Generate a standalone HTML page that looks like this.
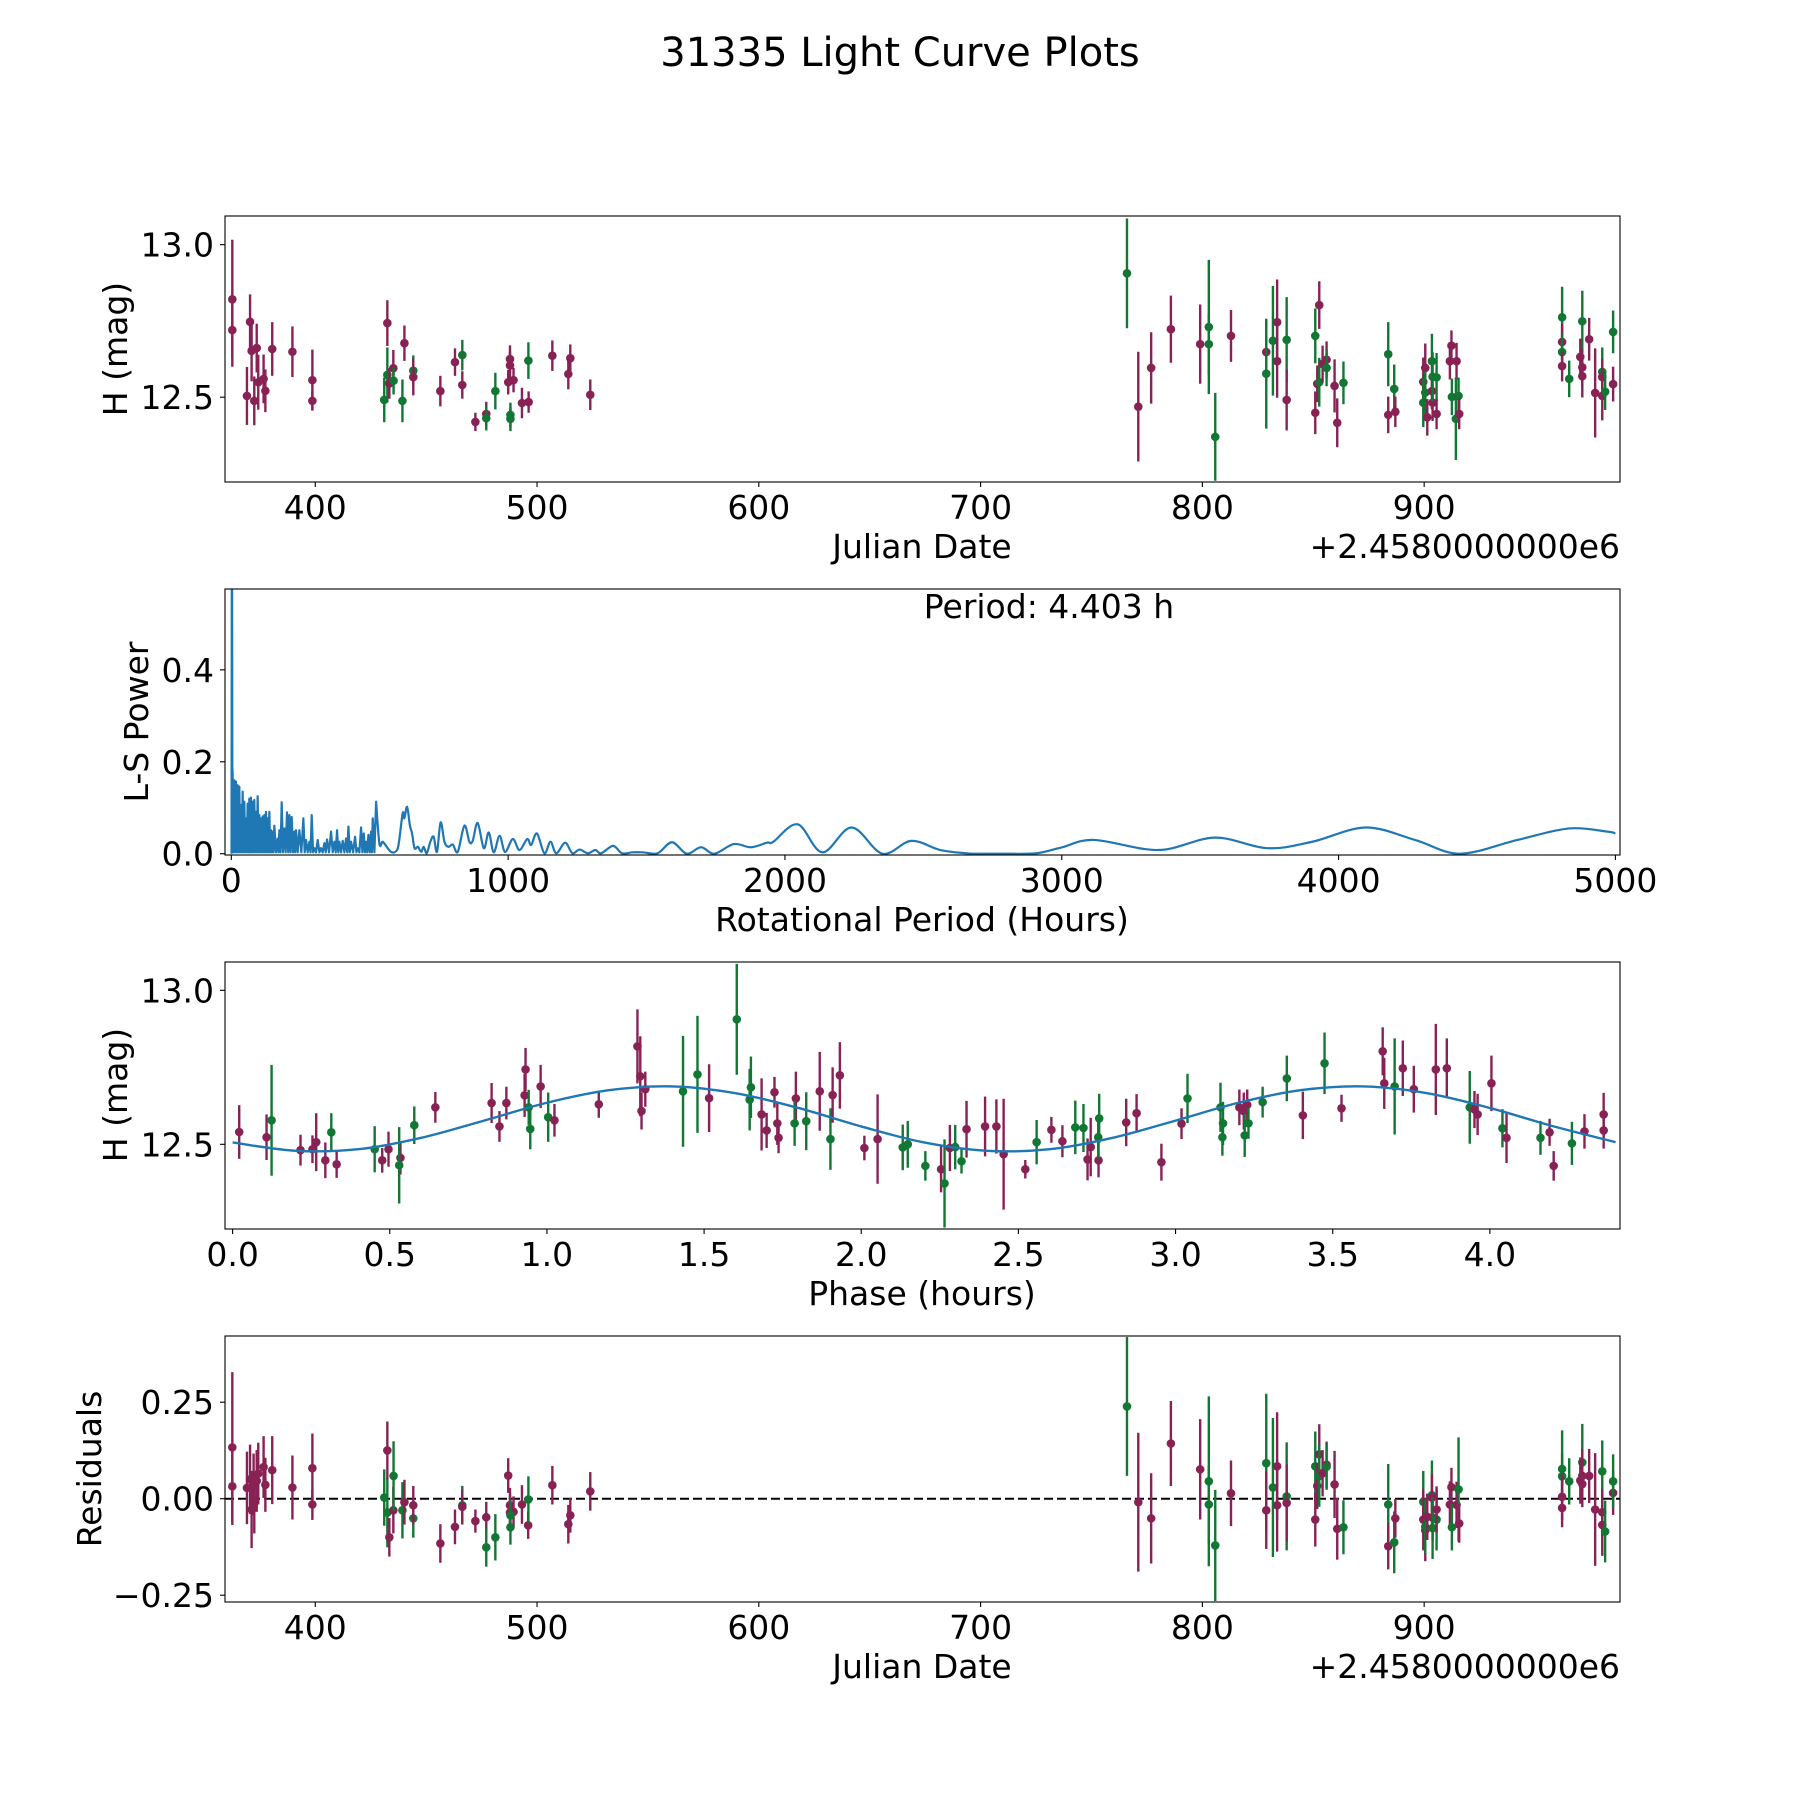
<!DOCTYPE html>
<html><head><meta charset="utf-8"><style>
html,body{margin:0;padding:0;background:#fff}
svg{display:block}
text{font-family:"DejaVu Sans","Liberation Sans",sans-serif;fill:#000}
</style></head><body>
<svg id="fig" xmlns="http://www.w3.org/2000/svg" width="1800" height="1800" viewBox="0 0 1800 1800">
<rect x="0" y="0" width="1800" height="1800" fill="#fff"/>
<text x="900" y="66" font-size="40" text-anchor="middle">31335 Light Curve Plots</text>
<defs>
<clipPath id="c1"><rect x="225" y="216" width="1395" height="266"/></clipPath>
<clipPath id="c2"><rect x="225" y="589" width="1395" height="266"/></clipPath>
<clipPath id="c3"><rect x="225" y="962" width="1395" height="267"/></clipPath>
<clipPath id="c4"><rect x="225" y="1336" width="1395" height="266"/></clipPath>
</defs>
<g id="g1"></g>
<g id="g2"></g>
<g id="g3"></g>
<g id="g4"></g>
</svg>
<script>
// ---------- Data: light curve ----------
const lcJD = [362.6,362.6,369.2,370.6,371.3,372.5,373.6,374.3,376.7,377.5,380.6,389.7,398.7,398.7,
431.1,432.5,432.5,433.4,435.2,435.3,439.3,440.2,444.2,444.2,456.4,463.0,466.3,466.3,472.2,477.1,477.1,481.2,487.8,487.8,487.0,489.4,488.0,488.0,493.2,496.2,496.1,506.9,515.0,514.1,524.0,
766.0,771.1,776.9,785.8,799.0,802.9,802.9,805.8,812.9,828.8,828.8,831.8,833.7,833.7,838.0,838.0,850.9,852.7,850.9,851.8,852.7,854.2,856.0,856.0,859.6,860.8,863.6,
883.8,883.8,886.5,887.0,899.6,899.6,900.5,900.5,901.4,903.5,903.5,903.8,903.8,905.6,905.6,911.6,912.3,914.6,912.5,914.3,915.5,915.8,
962.2,962.2,962.2,962.2,965.4,971.3,970.4,971.3,971.3,974.4,977.1,980.3,980.3,980.3,981.6,985.2,985.2];
const lcMag = [12.821,12.720,12.504,12.747,12.652,12.488,12.661,12.549,12.560,12.521,12.658,12.649,12.556,12.488,
12.491,12.573,12.743,12.545,12.595,12.554,12.488,12.677,12.587,12.566,12.520,12.615,12.638,12.540,12.419,12.445,12.431,12.520,12.625,12.604,12.549,12.556,12.442,12.429,12.481,12.484,12.620,12.636,12.628,12.576,12.508,
12.906,12.469,12.596,12.723,12.674,12.730,12.674,12.370,12.701,12.648,12.577,12.685,12.746,12.618,12.688,12.491,12.701,12.802,12.449,12.544,12.549,12.609,12.623,12.596,12.537,12.416,12.547,
12.641,12.442,12.527,12.452,12.550,12.482,12.596,12.515,12.434,12.618,12.520,12.482,12.567,12.565,12.445,12.618,12.669,12.618,12.501,12.429,12.504,12.445,
12.762,12.681,12.648,12.602,12.560,12.749,12.632,12.598,12.569,12.690,12.514,12.583,12.566,12.504,12.518,12.543,12.714];
const lcErr = [0.195,0.12,0.095,0.09,0.1,0.08,0.08,0.09,0.08,0.07,0.088,0.083,0.1,0.03,
0.073,0.09,0.075,0.05,0.06,0.045,0.07,0.058,0.05,0.06,0.05,0.045,0.05,0.045,0.03,0.04,0.04,0.06,0.045,0.045,0.04,0.04,0.04,0.04,0.05,0.035,0.06,0.05,0.045,0.05,0.05,
0.18,0.18,0.117,0.11,0.13,0.22,0.1,0.144,0.085,0.1,0.18,0.18,0.14,0.12,0.14,0.1,0.09,0.078,0.07,0.06,0.08,0.06,0.06,0.06,0.087,0.08,0.07,
0.105,0.06,0.08,0.05,0.08,0.08,0.08,0.07,0.06,0.09,0.06,0.06,0.08,0.08,0.05,0.06,0.05,0.06,0.06,0.135,0.06,0.05,
0.1,0.06,0.06,0.05,0.06,0.1,0.06,0.06,0.07,0.07,0.146,0.08,0.06,0.08,0.06,0.057,0.07];
const lcBand = ["p","p","p","p","p","p","p","p","p","p","p","p","p","p",
"g","g","p","p","p","g","g","p","g","p","p","p","g","p","p","p","g","g","p","p","p","p","g","g","p","p","g","p","p","p","p",
"g","p","p","p","p","g","g","g","p","p","g","g","p","p","g","p","g","p","p","p","g","p","p","g","p","p","g",
"g","p","g","p","p","g","p","g","p","g","p","p","g","g","p","p","p","p","g","g","g","p",
"g","p","g","p","g","g","p","p","p","p","p","g","p","p","g","p","g"];

// ---------- Data: periodogram ----------
const lsSpikePeriods = [0.8, 2.2, 3.6];
const lsSpikePowers = [0.0, 0.9, 0.19];
const lsNoisyPeriods = [4.8,10.8,16.9,22.9,28.9,34.9,41.0,47.0,53.0,59.0,65.1,71.1,77.1,83.1,89.2,95.2,101.2,107.2,113.3,119.3,125.3,131.3,137.4,143.4,149.4,155.4,167.5,173.5,182.0,191.6,201.2,209.7,218.1,227.7,233.8,245.8,260.3,269.9,282.0,290.4,300.1,312.1,324.1,336.2,345.8,360.3,372.3,382.0,390.4,402.5,414.5,423.0,432.6,447.1,456.7,468.7,478.4,486.8,495.3,504.9,510.9,523.0];
const lsNoisyPowers = [0.175,0.160,0.157,0.149,0.146,0.106,0.135,0.113,0.077,0.109,0.120,0.122,0.113,0.117,0.091,0.125,0.084,0.077,0.081,0.084,0.091,0.077,0.091,0.051,0.048,0.061,0.033,0.051,0.112,0.055,0.090,0.084,0.080,0.048,0.051,0.051,0.077,0.030,0.026,0.084,0.012,0.030,0.012,0.023,0.031,0.048,0.026,0.051,0.026,0.028,0.033,0.059,0.026,0.037,0.012,0.057,0.044,0.026,0.041,0.048,0.077,0.113];
const lsTroughPower = 0.003;
const lsSmoothPeriods = [535,547,565,577,592,604,619,625,635,645,653,662,674,686,695,706,719,731,743,756,770,784,800,818,842,860,872,890,912,930,948,969,989,1017,1041,1069,1083,1104,1131,1153,1174,1206,1232,1258,1288,1315,1336,1379,1411,1451,1487,1540,1592,1645,1697,1745,1815,1877,1935,1958,2046,2135,2241,2352,2456,2561,2654,2700,2793,2909,3001,3117,3349,3553,3743,3905,4097,4276,4438,4646,4832,4971,5000];
const lsSmoothPowers = [0.022,0.026,0.012,0.004,0.004,0.019,0.088,0.077,0.102,0.062,0.044,0.012,0.015,0.004,0.015,0.001,0.026,0.037,0.004,0.068,0.026,0.015,0.020,0.004,0.061,0.026,0.028,0.067,0.012,0.046,0.003,0.039,0.004,0.032,0.008,0.032,0.019,0.044,0.001,0.026,0.001,0.024,0.001,0.009,0.001,0.008,0.001,0.017,0.001,0.003,0.003,0.001,0.025,0.0,0.014,0.0,0.021,0.014,0.024,0.026,0.064,0.003,0.057,0.0,0.028,0.008,0.001,0.0,0.0,0.001,0.014,0.030,0.008,0.035,0.012,0.026,0.057,0.030,0.0,0.030,0.055,0.048,0.044];

// ---------- Data: phased curve ----------
const phPhase = [0.021,0.108,0.124,0.216,0.254,0.266,0.295,0.314,0.331,0.452,0.476,0.496,0.534,0.530,0.578,0.645,0.824,0.849,0.871,0.932,0.929,0.942,0.947,0.980,1.004,1.024,1.165,1.288,1.297,1.301,1.313,1.433,1.479,1.516,1.604,1.649,1.645,1.683,1.699,1.724,1.733,1.737,1.792,1.788,1.825,1.868,1.909,1.902,1.932,2.010,2.052,2.132,2.148,
2.204,2.254,2.265,2.282,2.299,2.319,2.335,2.394,2.430,2.453,2.522,2.558,2.605,2.640,2.681,2.707,2.720,2.730,2.755,2.757,2.754,2.843,2.876,2.955,3.019,3.038,3.143,3.151,3.149,3.203,3.217,3.228,3.232,3.220,3.277,3.354,3.405,3.474,3.528,3.659,3.664,3.697,3.723,3.758,3.828,3.863,3.936,3.951,3.961,4.005,4.040,4.053,4.161,4.190,4.203,4.261,4.301,4.362,4.362];
const phMag = [12.540,12.523,12.578,12.481,12.484,12.507,12.448,12.539,12.435,12.484,12.448,12.484,12.456,12.432,12.562,12.620,12.634,12.558,12.634,12.743,12.659,12.620,12.550,12.688,12.588,12.578,12.630,12.818,12.721,12.608,12.679,12.672,12.727,12.650,12.906,12.685,12.645,12.597,12.545,12.669,12.568,12.521,12.649,12.568,12.575,12.672,12.660,12.517,12.724,12.488,12.517,12.490,12.500,
12.430,12.419,12.373,12.488,12.491,12.445,12.549,12.558,12.558,12.468,12.419,12.507,12.547,12.510,12.555,12.553,12.451,12.491,12.448,12.584,12.523,12.571,12.601,12.442,12.567,12.649,12.620,12.568,12.523,12.620,12.608,12.628,12.568,12.529,12.637,12.714,12.594,12.763,12.617,12.802,12.698,12.688,12.747,12.679,12.743,12.747,12.620,12.613,12.597,12.698,12.552,12.521,12.521,12.539,12.430,12.503,12.542,12.545,12.597];
const phErr = [0.087,0.074,0.18,0.05,0.045,0.094,0.058,0.062,0.044,0.075,0.04,0.057,0.054,0.124,0.061,0.05,0.065,0.05,0.053,0.07,0.07,0.057,0.066,0.07,0.08,0.053,0.044,0.12,0.13,0.06,0.057,0.18,0.19,0.11,0.18,0.1,0.1,0.117,0.057,0.05,0.07,0.05,0.087,0.073,0.094,0.128,0.09,0.1,0.108,0.04,0.145,0.074,0.076,
0.048,0.075,0.143,0.075,0.072,0.04,0.092,0.097,0.088,0.18,0.03,0.072,0.042,0.052,0.087,0.078,0.068,0.095,0.055,0.08,0.07,0.077,0.062,0.06,0.05,0.08,0.08,0.07,0.06,0.058,0.06,0.05,0.05,0.07,0.05,0.074,0.077,0.1,0.044,0.078,0.083,0.156,0.09,0.076,0.148,0.097,0.118,0.06,0.067,0.09,0.062,0.082,0.055,0.044,0.048,0.07,0.056,0.059,0.07];
const phBand = ["p","p","g","p","p","p","p","g","p","g","p","p","p","g","g","p","p","p","p","p","p","g","g","p","g","p","p","p","p","p","p","g","g","p","g","g","g","p","p","p","p","p","p","g","g","p","p","g","p","p","p","g","g",
"g","p","g","p","g","g","p","p","p","p","p","g","p","p","g","g","p","p","p","g","g","p","p","p","p","g","g","g","g","p","p","p","g","g","g","g","p","g","p","p","p","g","p","p","p","p","g","p","p","p","g","p","g","p","p","g","p","p","p","g"];
const phCurvePhase = [0.0,0.2,0.4,0.6,0.8,1.0,1.2,1.4,1.6,1.8,2.0,2.2,2.4,2.6,2.8,3.0,3.2,3.4,3.6,3.8,4.0,4.2,4.4];
const phCurveMag = [12.506,12.479,12.484,12.521,12.577,12.635,12.676,12.688,12.666,12.618,12.558,12.506,12.479,12.484,12.521,12.577,12.635,12.676,12.688,12.666,12.618,12.559,12.507];

// ---------- Data: residuals ----------
const rsJD = [362.6,362.6,369.2,370.6,371.3,372.2,372.5,373.6,374.3,376.7,377.5,380.6,389.7,398.7,398.7,
431.1,432.5,432.5,433.4,435.2,435.3,439.3,440.2,444.2,444.2,456.4,463.0,466.3,466.3,472.2,477.1,477.1,481.2,487.0,487.8,487.8,489.4,488.0,488.0,493.2,496.0,496.1,506.9,514.1,515.0,524.0,
766.0,771.1,776.9,785.8,799.0,802.9,802.9,805.8,812.9,828.8,828.8,831.8,833.7,833.7,838.0,838.0,850.9,852.7,850.9,851.8,852.7,854.2,856.0,856.0,859.6,860.8,863.6,
883.8,883.8,886.5,887.0,899.6,899.6,900.5,900.5,901.4,903.5,903.5,903.8,903.8,905.6,905.6,911.6,912.3,914.6,912.5,915.5,915.8,
962.2,962.2,962.2,962.2,965.4,971.3,970.4,971.3,971.3,974.4,977.1,980.3,980.3,980.3,981.6,985.2,985.2];
const rsVal = [0.133,0.032,0.028,0.05,-0.028,0.037,-0.01,0.046,0.065,0.082,0.036,0.074,0.029,0.079,-0.015,
0.003,-0.036,0.125,-0.1,-0.03,0.059,-0.03,-0.009,-0.051,-0.017,-0.116,-0.073,-0.017,-0.021,-0.058,-0.048,-0.126,-0.1,0.06,-0.017,-0.036,-0.034,-0.043,-0.074,-0.015,-0.069,-0.002,0.035,-0.066,-0.043,0.019,
0.239,-0.009,-0.051,0.143,0.076,0.045,-0.015,-0.121,0.014,0.092,-0.03,0.029,0.084,-0.017,0.006,-0.011,0.084,0.115,-0.054,0.033,0.059,0.066,0.088,0.083,0.037,-0.078,-0.074,
-0.015,-0.123,-0.113,-0.051,-0.008,-0.054,-0.082,-0.073,-0.047,0.009,0.003,-0.049,-0.076,-0.054,-0.028,-0.015,0.03,-0.016,-0.074,0.024,-0.064,
0.077,0.058,0.005,-0.024,0.045,0.094,0.047,0.038,0.059,0.059,-0.028,0.071,-0.035,-0.068,-0.085,0.015,0.045];
const rsErr = [0.195,0.1,0.094,0.09,0.1,0.08,0.08,0.08,0.08,0.08,0.07,0.088,0.083,0.09,0.04,
0.073,0.09,0.075,0.05,0.06,0.09,0.073,0.058,0.05,0.05,0.05,0.045,0.05,0.045,0.03,0.04,0.05,0.06,0.045,0.045,0.045,0.04,0.04,0.045,0.05,0.035,0.06,0.05,0.05,0.045,0.05,
0.18,0.18,0.117,0.11,0.13,0.22,0.1,0.144,0.085,0.18,0.1,0.18,0.14,0.12,0.14,0.1,0.09,0.078,0.07,0.06,0.08,0.06,0.06,0.06,0.087,0.08,0.07,
0.105,0.06,0.08,0.05,0.08,0.08,0.08,0.07,0.06,0.09,0.06,0.06,0.08,0.08,0.06,0.06,0.05,0.06,0.06,0.135,0.05,
0.1,0.06,0.06,0.05,0.06,0.1,0.06,0.06,0.07,0.07,0.146,0.08,0.06,0.08,0.08,0.057,0.07];
const rsBand = ["p","p","p","p","p","p","p","p","p","p","p","p","p","p","p",
"g","g","p","p","p","g","g","p","g","p","p","p","g","p","p","p","g","g","p","p","p","p","g","g","p","p","g","p","p","p","p",
"g","p","p","p","p","g","g","g","p","g","p","g","p","p","g","p","g","p","p","p","g","p","p","g","p","p","g",
"g","p","g","p","g","p","p","g","p","g","p","p","g","g","p","p","p","p","g","g","p",
"g","g","p","p","g","g","p","p","p","p","p","g","p","p","g","p","g"];

// ---------- Axis tick labels ----------
const jdTicks = [400,500,600,700,800,900];
const magTicks = [12.5,13.0];
const magTickLabels = ["12.5","13.0"];
const lsXTicks = [0,1000,2000,3000,4000,5000];
const lsYTicks = [0.0,0.2,0.4];
const lsYTickLabels = ["0.0","0.2","0.4"];
const phTicks = [0.0,0.5,1.0,1.5,2.0,2.5,3.0,3.5,4.0];
const phTickLabels = ["0.0","0.5","1.0","1.5","2.0","2.5","3.0","3.5","4.0"];
const rsTicks = [-0.25,0.0,0.25];
const rsTickLabels = ["\u22120.25","0.00","0.25"];

// ---------- helpers ----------
const NS = "http://www.w3.org/2000/svg";
const COL = {p:"#882255", g:"#117733"};
const FS = 33;
function mk(tag, parent, attrs){ const e=document.createElementNS(NS,tag); for(const k in attrs) e.setAttribute(k,attrs[k]); parent.appendChild(e); return e; }
function lin(d0,d1,r0,r1){ return v => r0 + (v-d0)*(r1-r0)/(d1-d0); }
const L=225, R=1620;
function frame(g, top, bot){
  const r = mk("rect", g, {x:L,y:top,width:R-L,height:bot-top,fill:"none",stroke:"#000","stroke-width":1.1});
  
  
}
function xTicks(g, sx, vals, labels, bot){
  vals.forEach((v,i)=>{
    const x=sx(v);
    const t=mk("line", g, {x1:x,x2:x,y1:bot,y2:bot+5,stroke:"#000","stroke-width":1.1});
    
    
    const tx=mk("text", g, {x:x,y:bot+37,"font-size":FS,"text-anchor":"middle"});
    tx.textContent=labels[i];
    
    
  });
}
function yTicks(g, sy, vals, labels){
  vals.forEach((v,i)=>{
    const y=sy(v);
    const t=mk("line", g, {x1:L-5,x2:L,y1:y,y2:y,stroke:"#000","stroke-width":1.1});
    
    
    const tx=mk("text", g, {x:L-11,y:y+12,"font-size":FS,"text-anchor":"end"});
    tx.textContent=labels[i];
    
    
  });
}
function label(g, txt, x, y, rot, name){
  const t=mk("text", g, {x:x,y:y,"font-size":FS,"text-anchor":"middle"});
  if(rot) t.setAttribute("transform",`rotate(-90 ${x} ${y})`);
  t.textContent=txt;
  
  
}
function points(g, clipId, xs, ys, es, bands, sx, sy, name){
  const cg=mk("g", g, {"clip-path":`url(#${clipId})`});
  
  
  xs.forEach((xv,i)=>{
    const c=COL[bands[i]]; const x=sx(xv);
    const b=mk("line", cg, {x1:x,x2:x,y1:sy(ys[i]-es[i]),y2:sy(ys[i]+es[i]),stroke:c,"stroke-width":2.4});
    
    
    const m=mk("circle", cg, {cx:x,cy:sy(ys[i]),r:4.3,fill:c});
    
    
  });
  return cg;
}
function smoothPath(P){
  let d=`M${P[0][0]},${P[0][1]}`;
  for(let i=0;i<P.length-1;i++){
    const p0=P[Math.max(0,i-1)],p1=P[i],p2=P[i+1],p3=P[Math.min(P.length-1,i+2)];
    const c1=[p1[0]+(p2[0]-p0[0])/6,p1[1]+(p2[1]-p0[1])/6];
    const c2=[p2[0]-(p3[0]-p1[0])/6,p2[1]-(p3[1]-p1[1])/6];
    d+=` C${c1[0]},${c1[1]} ${c2[0]},${c2[1]} ${p2[0]},${p2[1]}`;
  }
  return d;
}
function offsetText(g, y){
  const t=mk("text", g, {x:R,y:y,"font-size":FS,"text-anchor":"end"});
  t.textContent="+2.4580000000e6";
  
  
}

// ---------- Panel 1 ----------
(function(){
  const g=document.getElementById("g1");
  const sx=lin(359.3,988.3,L,R), sy=lin(12.222,13.094,482,216);
  points(g,"c1",lcJD,lcMag,lcErr,lcBand,sx,sy,"light-curve");
  frame(g,216,482);
  xTicks(g,sx,jdTicks,jdTicks.map(String),482);
  yTicks(g,sy,magTicks,magTickLabels);
  label(g,"Julian Date",922,558,false,"x-axis-title");
  offsetText(g,558);
  label(g,"H (mag)",127,349,true,"y-axis-title");
})();

// ---------- Panel 2 ----------
(function(){
  const g=document.getElementById("g2");
  const sx=lin(-22.8,5016.6,L,R), sy=lin(-0.0028,0.5759,855,589);
  const cg=mk("g",g,{"clip-path":"url(#c2)"});
  
  
  const pts=[];
  lsSpikePeriods.forEach((p,i)=>pts.push([sx(p),sy(lsSpikePowers[i])]));
  lsNoisyPeriods.forEach((p,i)=>{
    if(i>0) pts.push([sx((p+lsNoisyPeriods[i-1])/2),sy(lsTroughPower)]);
    pts.push([sx(p),sy(lsNoisyPowers[i])]);
  });
  const d1="M"+pts.map(q=>q[0].toFixed(2)+","+q[1].toFixed(2)).join(" L");
  const sp=[pts[pts.length-1]];
  lsSmoothPeriods.forEach((p,i)=>sp.push([sx(p),sy(lsSmoothPowers[i])]));
  const path=mk("path",cg,{d:d1+" "+smoothPath(sp).replace(/^M[^ ]+/,"L"+sp[0][0]+","+sp[0][1]),fill:"none",stroke:"#1f77b4","stroke-width":2.2,"stroke-linejoin":"round"});
  
  
  frame(g,589,855);
  xTicks(g,sx,lsXTicks,lsXTicks.map(String),855);
  yTicks(g,sy,lsYTicks,lsYTickLabels);
  label(g,"Rotational Period (Hours)",922,931,false,"x-axis-title");
  label(g,"L-S Power",148,722,true,"y-axis-title");
  const pt=mk("text",g,{x:1049,y:618,"font-size":FS,"text-anchor":"middle"});
  pt.textContent="Period: 4.403 h";
  
  
})();

// ---------- Panel 3 ----------
(function(){
  const g=document.getElementById("g3");
  const sx=lin(-0.0242,4.414,L,R), sy=lin(12.225,13.092,1229,962);
  points(g,"c3",phPhase,phMag,phErr,phBand,sx,sy,"phased");
  const cg=mk("g",g,{"clip-path":"url(#c3)"});
  const P=phCurvePhase.map((p,i)=>[sx(p),sy(phCurveMag[i])]);
  const c=mk("path",cg,{d:smoothPath(P),fill:"none",stroke:"#1f77b4","stroke-width":2.4});
  
  
  frame(g,962,1229);
  xTicks(g,sx,phTicks,phTickLabels,1229);
  yTicks(g,sy,magTicks,magTickLabels);
  label(g,"Phase (hours)",922,1305,false,"x-axis-title");
  label(g,"H (mag)",127,1095,true,"y-axis-title");
})();

// ---------- Panel 4 ----------
(function(){
  const g=document.getElementById("g4");
  const sx=lin(359.3,988.3,L,R), sy=lin(-0.2676,0.4215,1602,1336);
  const z=mk("line",g,{x1:L,x2:R,y1:sy(0),y2:sy(0),stroke:"#000","stroke-width":2,"stroke-dasharray":"9,4"});
  
  
  points(g,"c4",rsJD,rsVal,rsErr,rsBand,sx,sy,"residuals");
  frame(g,1336,1602);
  xTicks(g,sx,jdTicks,jdTicks.map(String),1602);
  yTicks(g,sy,rsTicks,rsTickLabels);
  label(g,"Julian Date",922,1678,false,"x-axis-title");
  offsetText(g,1678);
  label(g,"Residuals",101,1469,true,"y-axis-title");
})();
</script>
</body></html>
